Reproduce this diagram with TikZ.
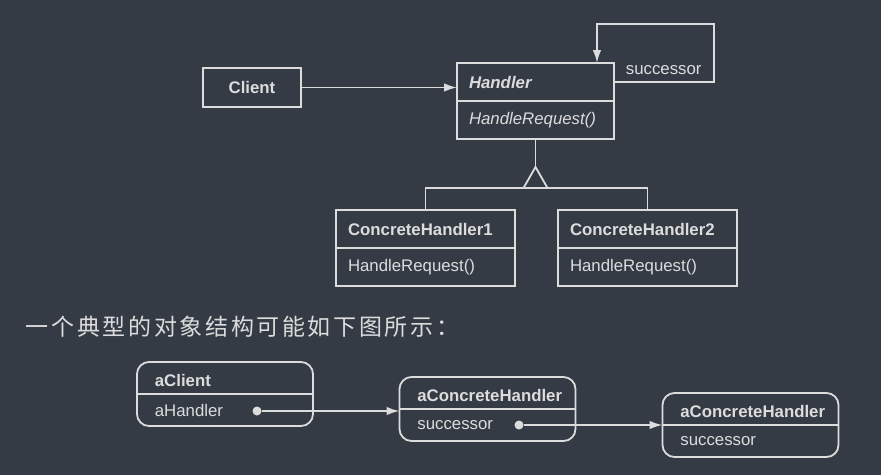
\documentclass[tikz,border=0pt]{standalone}
\usepackage{fontspec}
\setmainfont{Liberation Sans}
\newfontfamily\cjk[LetterSpace=11.5]{Noto Sans CJK SC}
\usetikzlibrary{arrows.meta}
\definecolor{bg}{HTML}{343B45}
\definecolor{ink}{HTML}{DCDCDC}
\begin{document}
\begin{tikzpicture}[x=1pt, y=-1pt, line width=1.8pt, color=ink,
    font=\fontsize{16.8}{20}\selectfont,
    classpart/.style={draw, rectangle, minimum height=38pt, inner xsep=12pt, inner ysep=0pt, outer sep=0pt, align=left},
    objbox/.style={draw, rounded corners=12pt, minimum width=176pt, minimum height=64pt, outer sep=0pt},
    lbl/.style={inner sep=0pt, anchor=west},
    dot/.style={circle, fill, inner sep=0pt, minimum size=9pt},
    arrow/.style={-{Latex[length=13pt,width=8.5pt]}}]
  \fill[bg] (0,0) rectangle (881,475);
  % class structure
  \node (client)[draw, minimum width=98pt, minimum height=39pt, outer sep=0pt] at (252,87.5) {\textbf{Client}};
  \node (handlerhead)[classpart, minimum width=157pt, text width=133pt] at (535.5,82) {\textbf{\textit{Handler}}};
  \node (handlerbody)[classpart, minimum width=157pt, text width=133pt, anchor=north] at (handlerhead.south) {\textit{HandleRequest()}};
  \node (ch1head)[classpart, minimum width=179pt, text width=155pt] at (425.5,229) {\textbf{ConcreteHandler1}};
  \node (ch1body)[classpart, minimum width=179pt, text width=155pt, anchor=north] at (ch1head.south) {HandleRequest()};
  \node (ch2head)[classpart, minimum width=179pt, text width=155pt] at (647.5,229) {\textbf{ConcreteHandler2}};
  \node (ch2body)[classpart, minimum width=179pt, text width=155pt, anchor=north] at (ch2head.south) {HandleRequest()};
  \draw[arrow] (client.east) -- (client.east -| handlerhead.west);
  \coordinate (loopcorner) at (714,24);
  \draw[arrow] (handlerhead.east) -| (loopcorner) -| ([xshift=61.5pt]handlerhead.north);
  \node (succlabel)[lbl] at (625,70) {successor};
  \draw (handlerbody.south) -- ++(0,28) coordinate (apex);
  \draw (apex) -- ++(-12,21) -- ++(24,0) -- cycle;
  \draw (ch1head.north) -- ++(0,-22) -| (ch2head.north);
  \node (caption)[lbl, font=\cjk\fontsize{23}{27}\selectfont] at (25,327) {一个典型的对象结构可能如下图所示：};
  % object structure
  \node (aclient)[objbox] at (225,394) {};
  \node (aconc1)[objbox] at (487.5,409) {};
  \node (aconc2)[objbox] at (750.5,425) {};
  \foreach \obj/\name/\field in {aclient/aClient/aHandler, aconc1/aConcreteHandler/successor, aconc2/aConcreteHandler/successor} {
    \draw (\obj.west) -- (\obj.east);
    \node (\obj-title)[lbl] at ([xshift=17pt,yshift=13.5pt]\obj.west) {\textbf{\name}};
    \node (\obj-field)[lbl] at ([xshift=17pt,yshift=-16pt]\obj.west) {\field};
  }
  \node (handlerdot)[dot] at ([xshift=32pt,yshift=-17pt]aclient.center) {};
  \node (succdot)[dot] at ([xshift=31.5pt,yshift=-16pt]aconc1.center) {};
  \draw[arrow] (handlerdot) -- (handlerdot -| aconc1.west);
  \draw[arrow] (succdot) -- (succdot -| aconc2.west);
\end{tikzpicture}
\end{document}
